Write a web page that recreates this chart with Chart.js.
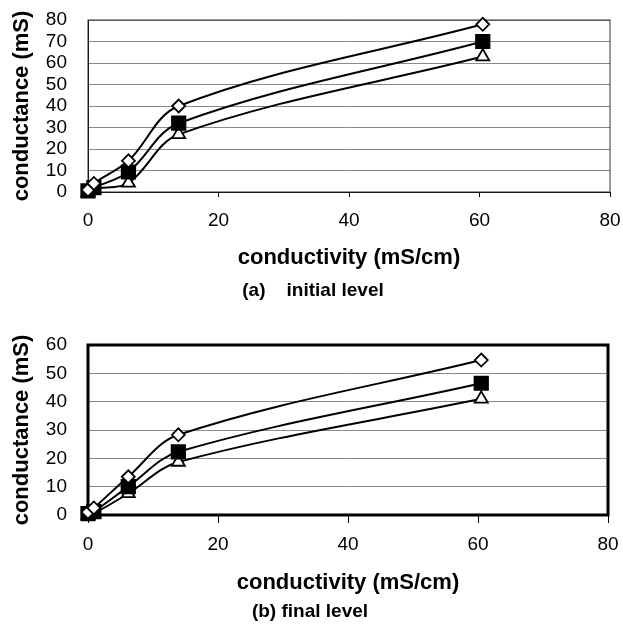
<!DOCTYPE html>
<html>
<head>
<meta charset="utf-8">
<script src="https://cdn.jsdelivr.net/npm/chart.js@4.4.0/dist/chart.umd.min.js"></script>
<style>
  html, body { margin: 0; padding: 0; background: #fff; }
  .box { position: relative; width: 623px; }
  #box-a { height: 320px; }
  #box-b { height: 311px; }
</style>
</head>
<body>
<div class="box" id="box-a"><canvas id="chart-a"></canvas></div>
<div class="box" id="box-b"><canvas id="chart-b"></canvas></div>
<script>
// conductivity (mS/cm) of the test solutions
var conductivity = [0, 0.9, 6.2, 13.9, 60.5];

// (a) initial level, conductance (mS)
var initialDiamond = [1, 4, 14.5, 40, 78];
var initialSquare = [0.5, 2, 9.3, 32, 70];
var initialTriangle = [0, 1.5, 4.2, 26.8, 63];

// (b) final level, conductance (mS)
var finalDiamond = [1, 2.5, 13.5, 28.3, 54.7];
var finalSquare = [0.5, 1.2, 10, 22.3, 46.5];
var finalTriangle = [0, 0.5, 7.6, 18.7, 41];

var xTicks = [0, 20, 40, 60, 80];
var initialYTicks = [0, 10, 20, 30, 40, 50, 60, 70, 80];
var finalYTicks = [0, 10, 20, 30, 40, 50, 60];

var FONT = "'Liberation Sans', Arial, sans-serif";

var plotFrame = {
    id: 'plotFrame',
    beforeDatasetsDraw: function (chart, args, opts) {
        var a = chart.chartArea;
        var ctx = chart.ctx;
        ctx.save();
        ctx.strokeStyle = opts.color;
        ctx.lineWidth = opts.width;
        ctx.strokeRect(a.left, a.top, a.right - a.left, a.bottom - a.top);
        ctx.restore();
    }
};

var toPoints = function (ys) {
    var pts = [];
    for (var i = 0; i < ys.length; ++i) {
        pts.push({ x: conductivity[i], y: ys[i] });
    }
    return pts;
};

var series = function (ys, style, radius, fill) {
    return {
        data: toPoints(ys),
        clip: false,
        borderColor: '#000',
        borderWidth: 2,
        tension: 0.35,
        pointStyle: style,
        pointRadius: radius,
        pointBackgroundColor: fill,
        pointBorderColor: '#000',
        pointBorderWidth: 1.8
    };
};

var fixTicks = function (values) {
    return function (scale) {
        scale.ticks = values.map(function (v) { return { value: v }; });
    };
};

var makeChart = function (id, caption, values, yTicks, lay) {
    var ctx = document.getElementById(id);
    return new Chart(ctx, {
        type: 'line',
        data: {
            datasets: [
                series(values[0], 'rectRot', 6.5, '#fff'),
                series(values[1], 'rect', 9.5, '#000'),
                series(values[2], 'triangle', 7.5, '#fff')
            ]
        },
        plugins: [plotFrame],
        options: {
            responsive: true,
            maintainAspectRatio: false,
            animation: false,
            layout: { padding: { top: lay.top, right: lay.right, bottom: lay.bottom, left: lay.left } },
            plugins: {
                legend: { display: false },
                tooltip: { enabled: false },
                title: {
                    display: true,
                    position: 'bottom',
                    text: caption,
                    color: '#000',
                    font: { family: FONT, size: 19, weight: 'bold' },
                    padding: 0
                },
                plotFrame: { color: lay.frameColor, width: lay.frameWidth }
            },
            scales: {
                x: {
                    type: 'linear',
                    min: 0,
                    max: 80,
                    afterBuildTicks: fixTicks(xTicks),
                    afterFit: function (scale) {
                        scale.height = lay.xHeight;
                        scale.paddingLeft = 0;
                        scale.paddingRight = 0;
                    },
                    grid: { drawOnChartArea: false, drawTicks: true, tickLength: lay.tickLength, color: '#000' },
                    border: { display: true, color: '#000', width: 1 },
                    ticks: { color: '#000', padding: lay.tickPad, maxRotation: 0, font: { family: FONT, size: 19 } },
                    title: {
                        display: true,
                        text: 'conductivity (mS/cm)',
                        color: '#000',
                        font: { family: FONT, size: 22, weight: 'bold' },
                        padding: { top: 0, bottom: lay.titlePad }
                    }
                },
                y: {
                    type: 'linear',
                    min: 0,
                    max: yTicks[yTicks.length - 1],
                    afterBuildTicks: fixTicks(yTicks),
                    afterFit: function (scale) {
                        scale.width = 88 - lay.left;
                        scale.paddingTop = 0;
                        scale.paddingBottom = 0;
                    },
                    grid: { color: '#8a8a8a', lineWidth: 1, drawTicks: false },
                    border: { display: true, color: '#000', width: 1 },
                    ticks: { color: '#000', padding: 21, autoSkip: false, font: { family: FONT, size: 19 } },
                    title: {
                        display: true,
                        text: 'conductance (mS)',
                        color: '#000',
                        font: { family: FONT, size: 22, weight: 'bold' },
                        padding: { top: 9 - lay.left, bottom: 0 }
                    }
                }
            }
        }
    });
};

makeChart('chart-a', '(a)    initial level',
    [initialDiamond, initialSquare, initialTriangle], initialYTicks,
    { top: 20, right: 13, bottom: 17.6, left: 16, xHeight: 87.6, tickLength: 5, tickPad: 12, titlePad: 8.4, frameColor: '#333', frameWidth: 1 });

makeChart('chart-b', '(b) final level',
    [finalDiamond, finalSquare, finalTriangle], finalYTicks,
    { top: 25, right: 15, bottom: 7.6, left: 12, xHeight: 85.6, tickLength: 8, tickPad: 10.6, titlePad: 4.4, frameColor: '#000', frameWidth: 3 });
</script>
</body>
</html>
